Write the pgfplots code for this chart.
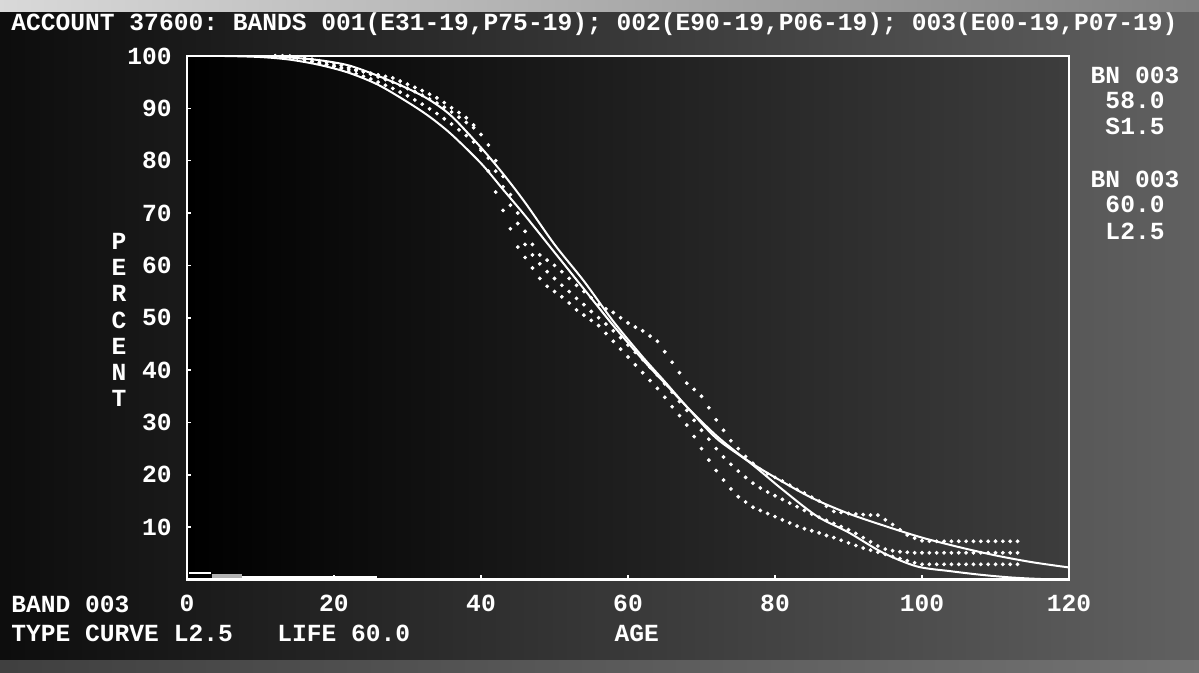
\documentclass[border=0pt]{standalone}
\usepackage{pgfplots}
\pgfplotsset{compat=1.18}
\usepackage{fontspec}
\setmonofont{Liberation Mono}
\newcommand{\scr}{\ttfamily\bfseries\fontsize{12.3}{13.15}\selectfont}
\begin{document}
\begin{tikzpicture}
\path[use as bounding box] (0,0) rectangle (599.5pt,336.5pt);
\fill[left color=black!95, right color=black!62] (0,0) rectangle (599.5pt,336.5pt);
\fill[left color=white!85!black, right color=black!50] (0,330.5pt) rectangle (599.5pt,336.5pt);
\fill[left color=black!75, right color=black!55] (0,0) rectangle (599.5pt,6pt);
\begin{axis}[
  at={(93.5pt,46.75pt)}, anchor=south west,
  scale only axis, width=441pt, height=261.75pt,
  xmin=0, xmax=120, ymin=0, ymax=100,
  xtick={0,20,...,120}, ytick={10,20,...,100},
  xtick pos=left, ytick pos=left, tick align=inside,
  major tick length=2pt,
  tick style={white, line width=0.8pt},
  axis line style={white, line width=1.1pt},
  axis background/.style={left color=black, right color=black!76},
  /pgf/number format/assume math mode=true,
  ticklabel style={font=\scr, text=white},
  xticklabel style={anchor=base, inner sep=0pt, yshift=-16.25pt},
  yticklabel style={anchor=east, inner sep=0pt, xshift=-7.5pt},
  xlabel={AGE},
  xlabel style={at={(axis description cs:0.51,0)}, anchor=base, inner sep=0pt, yshift=-31pt, font=\scr, text=white},
]
% bottom-left artefact bars
\addplot[white!70!black, line width=2pt, forget plot] coordinates {(3.4,0.7)(7.5,0.7)};
\addplot[white, line width=0.8pt, forget plot] coordinates {(0.3,1.2)(3.2,1.2)};
\addplot[white, line width=1.6pt, forget plot] coordinates {(7.5,0.3)(25.8,0.3)};
% L2.5, life 60
\addplot[white, line width=1pt, smooth] coordinates {
(0,100)(5,100)(10,99.8)(14,99.3)(18,98.3)(22,96.8)(26,94.5)(30,91.2)(33,88.4)(36,85)
(40,79.5)(43,74.5)(46,69.5)(50,62.5)(54,55.5)(58,48.5)(62,42)(65,37.5)(68,33)(72,27.5)
(76,23)(80,19.5)(85,15.6)(90,12.6)(95,10.2)(100,8)(105,6.2)(110,4.6)(115,3.3)(120,2.3)};
% S1.5, life 58
\addplot[white, line width=1pt, smooth] coordinates {
(0,100)(10,100)(14,99.7)(18,99.2)(22,98.2)(26,96.2)(30,93.8)(33,91.6)(36,88.5)(40,82.5)
(43,77.5)(46,72)(50,64)(54,57)(58,49.3)(62,42.5)(65,37.8)(68,33)(72,27)(76.6,22.3)
(81,17.2)(85.7,12.1)(90,9)(94.7,5.1)(99.3,2.5)(103.8,1.6)(108,0.9)(112,0.4)(116,0.1)(120,0)};
% band 1 observed
\addplot[only marks, mark=*, mark size=0.75pt, white] coordinates {
(12,100)(13,100)(14,99.9)(15,99.8)(16,99.6)(17,99.4)(18,99.1)(19,98.8)(20,98.5)(21,98.2)
(22,97.8)(23,97.4)(24,97)(25,96.5)(26,96)(27,95.5)(28,95)(29,94.4)(30,93.8)(31,93.2)
(32,92.5)(33,91.8)(34,91)(35,90.2)(36,89.3)(37,88.3)(38,87.3)(39,86.3)(40,82)(41,78)
(42,74)(43,70.5)(44,67)(45,63.5)(46,61.5)(47,59.5)(48,57.5)(49,56)(50,55)(51,54)
(52,52.8)(53,51.5)(54,50.5)(55,49.5)(56,48.5)(57,47)(58,45.5)(59,44)(60,42.5)(61,41)
(62,39.5)(63,38)(64,36.5)(65,34.8)(66,33)(67,31.3)(68,29.5)(69,27.3)(70,25)(71,22.8)
(72,20.8)(73,19)(74,17.3)(75,15.8)(76,14.8)(77,13.8)(78,13.2)(79,12.6)(80,12)(81,11.4)
(82,10.8)(83,10.2)(84,9.7)(85,9.3)(86,8.9)(87,8.4)(88,8)(89,7.5)(90,7)(91,6.5)
(92,6)(93,5.6)(94,5.2)(95,4.8)(96,4.4)(97,4)(98,3.6)(99,3.2)(100,2.9)(101,2.9)
(102,2.9)(103,2.9)(104,2.9)(105,2.9)(106,2.9)(107,2.9)(108,2.9)(109,2.9)(110,2.9)(111,2.9)
(112,2.9)(113,2.9)};
% band 2 observed
\addplot[only marks, mark=*, mark size=0.75pt, white] coordinates {
(12,100)(13,99.9)(14,99.8)(15,99.6)(16,99.3)(17,99)(18,98.7)(19,98.4)(20,98)(21,97.6)
(22,97.1)(23,96.6)(24,96.1)(25,95.6)(26,95)(27,94.4)(28,93.8)(29,93.1)(30,92.4)(31,91.6)
(32,90.8)(33,89.9)(34,89)(35,88)(36,87)(37,85.9)(38,84.8)(39,83.6)(40,82.3)(41,80.5)
(42,78)(43,75)(44,71.5)(45,68)(46,64)(47,62)(48,60.3)(49,58.8)(50,57.5)(51,56.2)
(52,55)(53,53.7)(54,52.5)(55,51.2)(56,50)(57,48.8)(58,47.5)(59,46.2)(60,44.8)(61,43.4)
(62,42)(63,40.5)(64,39)(65,37.4)(66,35.8)(67,34)(68,32.3)(69,30.4)(70,28.5)(71,26.8)
(72,25)(73,23.4)(74,22)(75,20.7)(76,19.5)(77,18.4)(78,17.5)(79,16.7)(80,16)(81,15.3)
(82,14.6)(83,13.9)(84,13.2)(85,12.5)(86,11.9)(87,11.3)(88,10.7)(89,10.1)(90,9.5)(91,8.8)
(92,8)(93,7.2)(94,6.4)(95,5.8)(96,5.5)(97,5.3)(98,5.2)(99,5.1)(100,5.1)(101,5.1)
(102,5.1)(103,5.1)(104,5.1)(105,5.1)(106,5.1)(107,5.1)(108,5.1)(109,5.1)(110,5.1)(111,5.1)
(112,5.1)(113,5.1)};
% band 3 observed
\addplot[only marks, mark=*, mark size=0.75pt, white] coordinates {
(12,100)(13,100)(14,100)(15,99.7)(16,99.3)(17,98.9)(18,98.6)(19,98.3)(20,98.1)(21,97.8)
(22,97.5)(23,97.2)(24,97)(25,96.7)(26,96.4)(27,96.1)(28,95.8)(29,95.2)(30,94.6)(31,94)
(32,93.4)(33,92.7)(34,92)(35,91.1)(36,90.1)(37,89.2)(38,88.2)(39,86.8)(40,85)(41,83)
(42,80)(43,77)(44,73.5)(45,70)(46,66.5)(47,64)(48,62)(49,61)(50,60)(51,58.8)
(52,57.5)(53,56.2)(54,55)(55,53.8)(56,52.5)(57,51.7)(58,51)(59,50)(60,49)(61,48.2)
(62,47.5)(63,46.5)(64,45.5)(65,43.5)(66,41.5)(67,39.5)(68,37.5)(69,36.3)(70,35)(71,32.8)
(72,30.5)(73,28.5)(74,26.5)(75,25)(76,23.5)(77,22.2)(78,21)(79,20.2)(80,19.5)(81,18.8)
(82,18)(83,17.2)(84,16.5)(85,15.7)(86,15)(87,14)(88,13)(89,12.8)(90,12.6)(91,12.5)
(92,12.4)(93,12.3)(94,12.3)(95,11.4)(96,10.5)(97,9.5)(98,8.5)(99,7.9)(100,7.4)(101,7.3)
(102,7.3)(103,7.3)(104,7.3)(105,7.3)(106,7.3)(107,7.3)(108,7.3)(109,7.3)(110,7.3)(111,7.3)
(112,7.3)(113,7.3)};
\end{axis}
\begin{scope}[every node/.style={text=white, font=\scr, inner sep=0pt}]
\node[anchor=base west] at (5.5pt,321.25pt) {ACCOUNT 37600: BANDS 001(E31-19,P75-19); 002(E90-19,P06-19); 003(E00-19,P07-19)};
\node[anchor=base] at (567.5pt,294.75pt) {BN 003};
\node[anchor=base] at (567.5pt,282.25pt) {58.0};
\node[anchor=base] at (567.5pt,269pt) {S1.5};
\node[anchor=base] at (567.5pt,242.5pt) {BN 003};
\node[anchor=base] at (567.5pt,230pt) {60.0};
\node[anchor=base] at (567.5pt,216.5pt) {L2.5};
\node[anchor=base west] at (5.5pt,30.25pt) {BAND 003};
\node[anchor=base west] at (5.5pt,15.75pt) {TYPE CURVE L2.5};
\node[anchor=base west] at (138.5pt,15.75pt) {LIFE 60.0};
\node[align=center] at (59.5pt,176.5pt) {P\\E\\R\\C\\E\\N\\T};
\end{scope}
\end{tikzpicture}
\end{document}
